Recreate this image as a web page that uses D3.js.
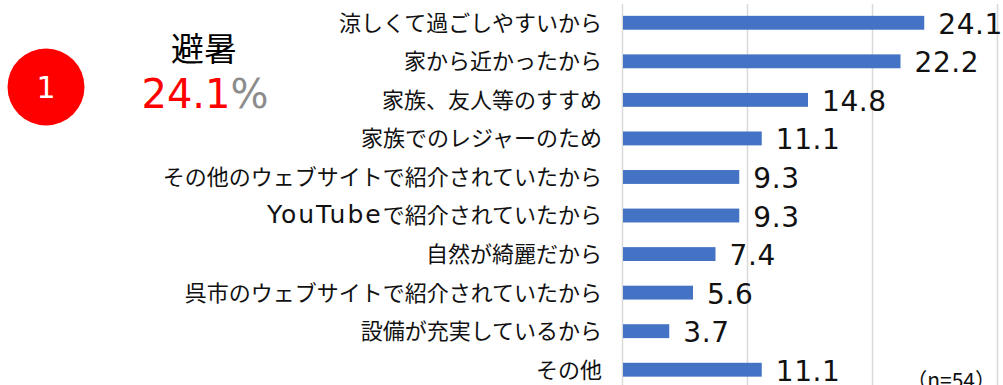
<!DOCTYPE html>
<html>
<head>
<meta charset="utf-8">
<script src="https://cdn.jsdelivr.net/npm/d3@7"></script>
<style>
  html, body { margin: 0; padding: 0; background: #fff; }
  svg { display: block; font-family: "DejaVu Sans", "Noto Sans CJK JP", sans-serif; }
</style>
</head>
<body>
<svg id="chart" width="1003" height="385"></svg>
<script>
// Reasons for visiting (%), n=54
const categories = [
  "涼しくて過ごしやすいから",
  "家から近かったから",
  "家族、友人等のすすめ",
  "家族でのレジャーのため",
  "その他のウェブサイトで紹介されていたから",
  "YouTubeで紹介されていたから",
  "自然が綺麗だから",
  "呉市のウェブサイトで紹介されていたから",
  "設備が充実しているから",
  "その他"
];
const values = [24.1, 22.2, 14.8, 11.1, 9.3, 9.3, 7.4, 5.6, 3.7, 11.1];
const gridTicks = [0, 10, 20, 30];

const rankLabel = "1";
const topicLabel = "避暑";
const topicValue = "24.1";
const sampleNote = "（n=54）";

const CJK = "'Noto Sans CJK JP', sans-serif";
const LATIN = "'DejaVu Sans', sans-serif";

const svg = d3.select("#chart");

const x = d3.scaleLinear().domain([0, 30]).range([622, 997]);
const y = d3.scaleBand().domain(categories).range([3.5, 389]).paddingInner(0.64).paddingOuter(0.32);

// vertical gridlines
svg.append("g")
  .selectAll("line")
  .data(gridTicks)
  .join("line")
  .attr("x1", d => Math.round(x(d)) + 0.5)
  .attr("x2", d => Math.round(x(d)) + 0.5)
  .attr("y1", 4)
  .attr("y2", 385)
  .attr("stroke", "#d9d9d9")
  .attr("stroke-width", 1.5);

// bars
svg.append("g")
  .selectAll("rect")
  .data(values)
  .join("rect")
  .attr("x", x(0) + 1)
  .attr("y", (d, i) => y(categories[i]))
  .attr("width", d => x(d) - x(0))
  .attr("height", y.bandwidth())
  .attr("fill", "#4472c4");

// split a label into runs of ASCII / non-ASCII so each gets its own font
function runs(s) {
  return s.match(/[\x20-\x7e]+|[^\x20-\x7e]+/g) || [];
}

// category labels
svg.append("g")
  .selectAll("text")
  .data(categories)
  .join("text")
  .attr("x", 602)
  .attr("y", d => y(d) + y.bandwidth() / 2)
  .attr("dy", "0.36em")
  .attr("text-anchor", "end")
  .attr("font-size", 22)
  .attr("fill", "#111")
  .each(function(d) {
    const t = d3.select(this);
    runs(d).forEach(r => {
      const ascii = /^[\x20-\x7e]+$/.test(r);
      t.append("tspan")
        .attr("font-family", ascii ? LATIN : CJK)
        .attr("font-size", ascii ? 25 : 22)
        .attr("letter-spacing", ascii ? 2 : 0)
        .text(r);
    });
  });

// value labels
svg.append("g")
  .selectAll("text")
  .data(values)
  .join("text")
  .attr("x", d => x(d) + 15)
  .attr("y", (d, i) => y(categories[i]) + y.bandwidth() / 2 + 11)
  .attr("font-family", LATIN)
  .attr("font-size", 28)
  .attr("letter-spacing", 0.6)
  .attr("fill", "#111")
  .text(d => d.toFixed(1));

// rank badge
svg.append("circle")
  .attr("cx", 46).attr("cy", 87).attr("r", 38.5)
  .attr("fill", "#ff0000");
svg.append("text")
  .attr("x", 46).attr("y", 98)
  .attr("text-anchor", "middle")
  .attr("font-family", LATIN)
  .attr("font-size", 30)
  .attr("fill", "#fff")
  .text(rankLabel);

// topic heading
svg.append("text")
  .attr("x", 204).attr("y", 61)
  .attr("text-anchor", "middle")
  .attr("font-family", CJK)
  .attr("font-size", 33)
  .attr("fill", "#000")
  .text(topicLabel);

const pct = svg.append("text")
  .attr("x", 205).attr("y", 108)
  .attr("text-anchor", "middle")
  .attr("font-family", LATIN)
  .attr("font-size", 40);
pct.append("tspan").attr("fill", "#ff0000").text(topicValue);
pct.append("tspan").attr("fill", "#8c8c8c").text("%");

// sample size note
svg.append("text")
  .attr("x", 996).attr("y", 388)
  .attr("text-anchor", "end")
  .attr("font-family", CJK)
  .attr("font-size", 21)
  .attr("fill", "#111")
  .text(sampleNote);
</script>
</body>
</html>
